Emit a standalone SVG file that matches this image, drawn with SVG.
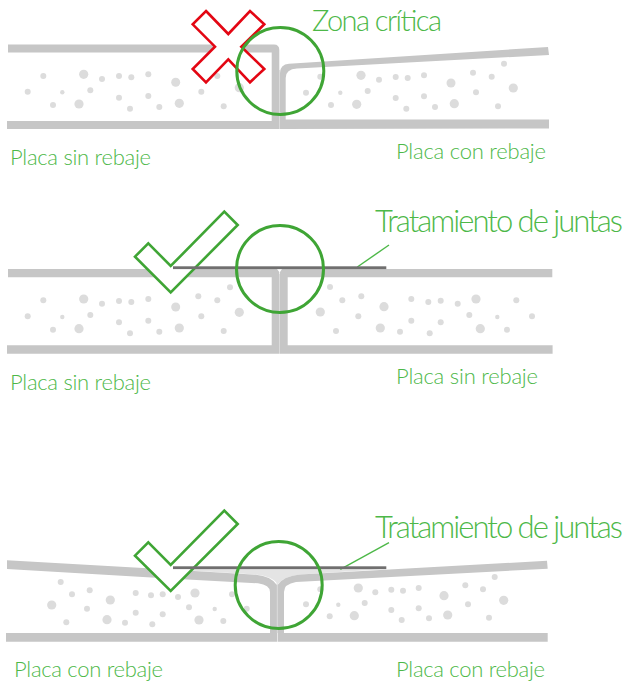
<svg xmlns="http://www.w3.org/2000/svg" width="626" height="684" viewBox="0 0 626 684">
<style>
.bar{fill:#c6c6c6}
.lite{fill:#e4e4e4}
.strip{fill:#706f6f}
.dots circle{fill:#dcdcdc}
.ring{fill:none;stroke:#3fa535;stroke-width:3}
.ok{fill:#fff;stroke:#3fa535;stroke-width:2.6}
.no{fill:#fff;stroke:#e30613;stroke-width:2.6}
.lead{fill:none;stroke:#4db848;stroke-width:1.4}
text{font-family:"Lato","Liberation Sans",sans-serif;font-weight:300;fill:#4db848}
.s{font-size:22px}
.m{font-size:29px}
.l{font-size:31px}
</style>
<rect width="626" height="684" fill="#fff"/>
<g id="panel-1">
<g class="dots">
<circle cx="43.3" cy="76" r="3"/><circle cx="83.7" cy="74.3" r="4.6"/><circle cx="102" cy="79" r="3"/><circle cx="119" cy="76" r="3"/><circle cx="131.3" cy="77.3" r="3"/><circle cx="148.3" cy="74.3" r="3"/><circle cx="175.7" cy="82.3" r="4.5"/><circle cx="27.7" cy="91.7" r="3"/><circle cx="62.3" cy="92.3" r="2.2"/><circle cx="90.3" cy="90.3" r="3"/><circle cx="119" cy="97.7" r="3"/><circle cx="148.3" cy="96" r="3"/><circle cx="201.3" cy="91.7" r="3"/><circle cx="53" cy="105" r="3"/><circle cx="79" cy="104" r="4.6"/><circle cx="130" cy="108.7" r="3"/><circle cx="159.3" cy="107" r="3"/><circle cx="179.3" cy="103.3" r="4.6"/><circle cx="223.7" cy="106.3" r="3"/><circle cx="198.3" cy="72" r="3"/><circle cx="217.3" cy="76" r="3"/><circle cx="239.3" cy="87.7" r="4.6"/>
<circle cx="361" cy="75.3" r="4.6"/><circle cx="379" cy="79.7" r="3"/><circle cx="395.7" cy="77" r="3"/><circle cx="407.7" cy="78" r="3"/><circle cx="424" cy="75.3" r="3"/><circle cx="451" cy="83" r="4.5"/><circle cx="473" cy="72.7" r="3"/><circle cx="491.7" cy="76.7" r="3"/><circle cx="504" cy="63.7" r="3"/><circle cx="513.3" cy="88" r="4.6"/><circle cx="476" cy="92.3" r="3"/><circle cx="340.3" cy="92.7" r="2.2"/><circle cx="367.7" cy="91" r="3"/><circle cx="395.7" cy="98" r="3"/><circle cx="424" cy="96.3" r="3"/><circle cx="331" cy="105" r="3"/><circle cx="356.7" cy="104.3" r="4.6"/><circle cx="406.3" cy="108.7" r="3"/><circle cx="435" cy="107" r="3"/><circle cx="454.3" cy="103.7" r="4.6"/><circle cx="498" cy="106.3" r="3"/><circle cx="306" cy="92.7" r="3"/><circle cx="320.3" cy="76.7" r="3"/>
</g>
<rect class="lite" x="279" y="70" width="1.4" height="59"/>
<path class="bar" d="M8 44.5H274Q279.3 44.5 279.3 50V129H7V121H271.7V52.5H8Z"/>
<path class="bar" d="M280 129V73Q280 64.5 289 63.8L548 47L549 55L297 68.5Q285.7 69 285.7 78V119.5H549V128.5Z"/>
</g>
<g id="panel-2">
<g class="dots">
<circle cx="43.3" cy="300.3" r="3"/><circle cx="83.7" cy="299" r="4.6"/><circle cx="102" cy="303.7" r="3"/><circle cx="119" cy="301" r="3"/><circle cx="131.3" cy="302" r="3"/><circle cx="148.3" cy="299" r="3"/><circle cx="175.7" cy="307" r="4.5"/><circle cx="27.7" cy="316.3" r="3"/><circle cx="62.3" cy="317" r="2.2"/><circle cx="90.3" cy="315" r="3"/><circle cx="119" cy="322.3" r="3"/><circle cx="148.3" cy="320.7" r="3"/><circle cx="201.3" cy="316.3" r="3"/><circle cx="53" cy="329.7" r="3"/><circle cx="79" cy="328.7" r="4.6"/><circle cx="130" cy="333.3" r="3"/><circle cx="159.3" cy="331.7" r="3"/><circle cx="179.3" cy="328" r="4.6"/><circle cx="223.7" cy="331" r="3"/><circle cx="198.3" cy="296.3" r="3"/><circle cx="217.3" cy="300.3" r="3"/><circle cx="230" cy="287.3" r="3"/><circle cx="239.3" cy="312.3" r="4.6"/>
<circle cx="330" cy="287" r="3"/><circle cx="342.3" cy="300.3" r="3"/><circle cx="361.3" cy="296.3" r="3"/><circle cx="384" cy="306.7" r="4.6"/><circle cx="320.3" cy="312" r="4.6"/><circle cx="358.3" cy="316.3" r="3"/><circle cx="336" cy="331" r="3"/><circle cx="380.3" cy="328" r="4.6"/><circle cx="400" cy="331.7" r="3"/><circle cx="411.3" cy="299" r="3"/><circle cx="428.3" cy="302" r="3"/><circle cx="440.7" cy="300.7" r="3"/><circle cx="457.7" cy="303.7" r="3"/><circle cx="476" cy="299" r="4.6"/><circle cx="516.3" cy="300.3" r="3"/><circle cx="469.3" cy="315" r="3"/><circle cx="497.3" cy="317" r="2.2"/><circle cx="532" cy="316.3" r="3"/><circle cx="411.3" cy="320.7" r="3"/><circle cx="440.7" cy="322.3" r="3"/><circle cx="429.7" cy="333.3" r="3"/><circle cx="480.3" cy="328.7" r="4.6"/><circle cx="507" cy="329.7" r="3"/>
</g>
<rect class="lite" x="279" y="274" width="1.4" height="79.7"/>
<path class="bar" d="M8 269H277L279.3 272V353.7H7V345.3H271.7V277.3H8Z"/>
<path class="bar" d="M282 269H552.3V277.3H287.7V345.3H552.6V353.7H280V272Z"/>
</g>
<g id="panel-3">
<g class="dots">
<circle cx="60.7" cy="582" r="3"/><circle cx="72" cy="594.3" r="3"/><circle cx="89.7" cy="590.3" r="3"/><circle cx="110.3" cy="600" r="4.6"/><circle cx="51.7" cy="605" r="4.6"/><circle cx="87" cy="608.7" r="3"/><circle cx="66.3" cy="622.3" r="3"/><circle cx="107" cy="619.7" r="4.6"/><circle cx="125" cy="622.7" r="3"/><circle cx="135.7" cy="593" r="3"/><circle cx="151" cy="595.3" r="3"/><circle cx="162.7" cy="594.3" r="3"/><circle cx="178" cy="597" r="3"/><circle cx="195" cy="593" r="4.6"/><circle cx="232" cy="594.3" r="3"/><circle cx="135.7" cy="612.7" r="3"/><circle cx="162.7" cy="614.3" r="3"/><circle cx="152.3" cy="624.3" r="3"/><circle cx="189" cy="607.3" r="3"/><circle cx="214.7" cy="609" r="2.2"/><circle cx="246.7" cy="608.7" r="3"/><circle cx="199" cy="620" r="4.6"/><circle cx="223.3" cy="621" r="3"/>
<circle cx="306" cy="604.3" r="3"/><circle cx="320.3" cy="589.3" r="3"/><circle cx="358.3" cy="588" r="4.6"/><circle cx="375.3" cy="592.3" r="3"/><circle cx="391.3" cy="589.7" r="3"/><circle cx="403" cy="590.7" r="3"/><circle cx="418.7" cy="588" r="3"/><circle cx="444" cy="595.7" r="4.6"/><circle cx="465.3" cy="585.3" r="3"/><circle cx="483" cy="589.3" r="3"/><circle cx="494.7" cy="577" r="3"/><circle cx="503.7" cy="600.3" r="4.6"/><circle cx="468" cy="604.3" r="3"/><circle cx="338.3" cy="604.7" r="2.2"/><circle cx="364.7" cy="603" r="3"/><circle cx="391.3" cy="610" r="3"/><circle cx="418.7" cy="608.3" r="3"/><circle cx="329.7" cy="616.3" r="3"/><circle cx="354.3" cy="615.7" r="4.6"/><circle cx="401.7" cy="620" r="3"/><circle cx="429" cy="618.3" r="3"/><circle cx="447.7" cy="615" r="4.6"/><circle cx="489" cy="617.7" r="3"/>
</g>
<path class="lite" d="M165 569H386L300 574.5Q284 576 278 584Q272 576 256 574.5Z"/>
<rect class="lite" x="276.5" y="580" width="1.5" height="53"/>
<path class="bar" d="M7 560.3L165 569.3L256 574.7Q271 576 276.9 585V633H6V641.7H277V633H270V592Q270 585 258 583.3L160 578L7 569Z"/>
<path class="bar" d="M277.6 585Q284 576 300 574.6L547 560.7L547.7 568.7L296 582Q284 584 284 592V633H547.7V641.7H277.6Z"/>
</g>
<g id="connectors">
<path class="lead" d="M389 245L357.3 267"/>
<path class="lead" d="M389 542.7L340.3 569.3"/>
</g>
<g id="mark-x">
<path class="no" d="M206 11L228.3 34L250 11L264.3 24.3L241.3 46.7L264.3 69L250 82.3L228.3 59.3L206 82.3L192.7 69L215 46.7L192.7 24.3Z"/>
</g>
<g id="mark-ok-2">
<path class="ok" d="M148.3 243.3L170.7 266L224.3 211.7L237.7 225L170.7 292.3L135 256.7Z"/>
</g>
<g id="mark-ok-3">
<path class="ok" d="M148.3 542.3L170.7 565L224.3 510.7L237.7 524L170.7 591L135 555.7Z"/>
</g>
<g id="strip-2"><rect class="strip" x="173" y="266.3" width="213.3" height="2.8"/></g>
<g id="strip-3"><rect class="strip" x="173" y="566.3" width="213.3" height="2.8"/></g>
<g id="zone-1"><circle class="ring" cx="280.3" cy="71" r="43.5"/></g>
<g id="zone-2"><circle class="ring" cx="280" cy="269" r="43.5"/></g>
<g id="zone-3"><circle class="ring" cx="278.7" cy="585" r="43.5"/></g>
<g id="labels">
<text class="m" x="312" y="30.7" textLength="130">Zona crítica</text>
<text class="s" x="10" y="165" textLength="141">Placa sin rebaje</text>
<text class="s" x="396" y="159" textLength="150">Placa con rebaje</text>
<text class="l" x="375" y="232.3" textLength="248">Tratamiento de juntas</text>
<text class="s" x="10" y="390" textLength="141">Placa sin rebaje</text>
<text class="s" x="396" y="384" textLength="142">Placa sin rebaje</text>
<text class="l" x="375" y="538.3" textLength="248">Tratamiento de juntas</text>
<text class="s" x="14" y="677" textLength="149">Placa con rebaje</text>
<text class="s" x="396" y="676.7" textLength="149">Placa con rebaje</text>
</g>
</svg>
